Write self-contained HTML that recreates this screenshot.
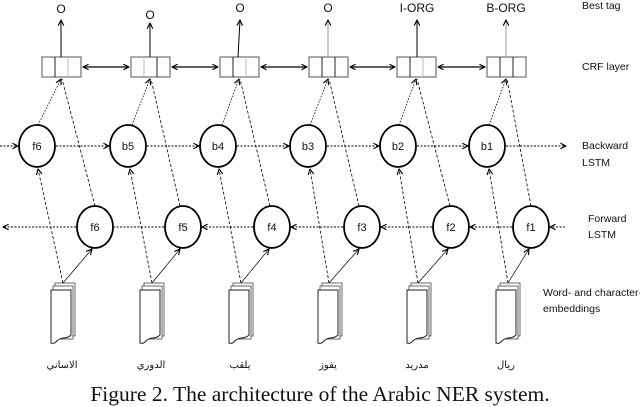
<!DOCTYPE html>
<html><head><meta charset="utf-8"><style>
body{margin:0;background:#fff;width:640px;height:407px;overflow:hidden}
svg{display:block}
text{font-family:"Liberation Sans",sans-serif;fill:#111}
</style></head><body>
<svg width="640" height="407" viewBox="0 0 640 407" xmlns="http://www.w3.org/2000/svg">
<defs>
<marker id="a" viewBox="0 0 10 10" refX="9" refY="5" markerWidth="7" markerHeight="7" orient="auto-start-reverse" markerUnits="userSpaceOnUse"><path d="M1,1 L9,5 L1,9" fill="none" stroke="#000" stroke-width="1.6"/></marker>
<g id="doc">
<rect x="4" y="0" width="20" height="53" fill="#fff" stroke="#444" stroke-width="0.8"/>
<rect x="2" y="3" width="20" height="53" fill="#fff" stroke="#444" stroke-width="0.8"/>
<path d="M0,7 H20 V52 Q17,55 12,55 Q7,56 5,59 Q3,61 0,60 Z" fill="#fff" stroke="#222" stroke-width="1"/>
</g>
</defs>
<g stroke="#000" fill="none">
<g stroke="#555" stroke-width="1">
<rect x="42" y="57" width="39" height="20"/><line x1="55" y1="57" x2="55" y2="77" stroke="#222"/><line x1="68" y1="57" x2="68" y2="77" stroke="#bbb"/>
<rect x="131" y="57" width="39" height="20"/><line x1="144" y1="57" x2="144" y2="77" stroke="#bbb"/><line x1="157" y1="57" x2="157" y2="77" stroke="#222"/>
<rect x="220" y="57" width="39" height="20"/><line x1="233" y1="57" x2="233" y2="77" stroke="#222"/><line x1="246" y1="57" x2="246" y2="77" stroke="#bbb"/>
<rect x="309" y="57" width="39" height="20"/><line x1="322" y1="57" x2="322" y2="77" stroke="#222"/><line x1="335" y1="57" x2="335" y2="77" stroke="#222"/>
<rect x="397" y="57" width="39" height="20"/><line x1="410" y1="57" x2="410" y2="77" stroke="#222"/><line x1="423" y1="57" x2="423" y2="77" stroke="#bbb"/>
<rect x="487" y="57" width="39" height="20"/><line x1="500" y1="57" x2="500" y2="77" stroke="#222"/><line x1="513" y1="57" x2="513" y2="77" stroke="#222"/>
</g>
<g stroke-width="1.3">
<line x1="83" y1="67" x2="129" y2="67" marker-start="url(#a)" marker-end="url(#a)"/>
<line x1="172" y1="67" x2="218" y2="67" marker-start="url(#a)" marker-end="url(#a)"/>
<line x1="261" y1="67" x2="307" y2="67" marker-start="url(#a)" marker-end="url(#a)"/>
<line x1="350" y1="67" x2="395" y2="67" marker-start="url(#a)" marker-end="url(#a)"/>
<line x1="438" y1="67" x2="485" y2="67" marker-start="url(#a)" marker-end="url(#a)"/>
</g>
<g stroke-width="1">
<line x1="61" y1="57" x2="61" y2="20" marker-end="url(#a)"/>
<line x1="150" y1="57" x2="150" y2="23" marker-end="url(#a)"/>
<line x1="238" y1="57" x2="240" y2="20" marker-end="url(#a)"/>
<line x1="328" y1="57" x2="328" y2="20" stroke="#999" marker-end="url(#a)"/>
<line x1="417" y1="57" x2="417" y2="20" marker-end="url(#a)"/>
<line x1="506" y1="57" x2="506" y2="20" stroke="#999" marker-end="url(#a)"/>
</g>
<g stroke-width="1.8">
<ellipse cx="37" cy="146" rx="18" ry="21"/><ellipse cx="128" cy="146" rx="18" ry="21"/><ellipse cx="218" cy="146" rx="18" ry="21"/><ellipse cx="308" cy="146" rx="18" ry="21"/><ellipse cx="398" cy="146" rx="18" ry="21"/><ellipse cx="487" cy="146" rx="18" ry="21"/>
<ellipse cx="95" cy="227" rx="18" ry="21"/><ellipse cx="183" cy="227" rx="18" ry="21"/><ellipse cx="272" cy="227" rx="18" ry="21"/><ellipse cx="362" cy="227" rx="18" ry="21"/><ellipse cx="451" cy="227" rx="18" ry="21"/><ellipse cx="531" cy="227" rx="18" ry="21"/>
</g>
<g stroke-width="0.9" stroke-dasharray="2,1.5">
<line x1="0" y1="146" x2="18" y2="146" marker-end="url(#a)"/>
<line x1="56" y1="146" x2="109" y2="146" marker-end="url(#a)"/>
<line x1="147" y1="146" x2="199" y2="146" marker-end="url(#a)"/>
<line x1="237" y1="146" x2="289" y2="146" marker-end="url(#a)"/>
<line x1="327" y1="146" x2="379" y2="146" marker-end="url(#a)"/>
<line x1="417" y1="146" x2="468" y2="146" marker-end="url(#a)"/>
<line x1="506" y1="146" x2="566" y2="146" marker-end="url(#a)"/>
<line x1="76" y1="227" x2="3" y2="227" marker-end="url(#a)"/>
<line x1="164" y1="227" x2="114" y2="227"/>
<line x1="253" y1="227" x2="202" y2="227" marker-end="url(#a)"/>
<line x1="343" y1="227" x2="291" y2="227" marker-end="url(#a)"/>
<line x1="432" y1="227" x2="381" y2="227" marker-end="url(#a)"/>
<line x1="512" y1="227" x2="470" y2="227" marker-end="url(#a)"/>
<line x1="565" y1="227" x2="550" y2="227" marker-end="url(#a)"/>
</g>
<g stroke-width="0.8" stroke-dasharray="1.5,1.5">
<line x1="38" y1="125" x2="61" y2="79" marker-end="url(#a)"/>
<line x1="132" y1="125" x2="150" y2="79" marker-end="url(#a)"/>
<line x1="222" y1="125" x2="239" y2="79" marker-end="url(#a)"/>
<line x1="310" y1="125" x2="328" y2="79" marker-end="url(#a)"/>
<line x1="399" y1="125" x2="416" y2="79" marker-end="url(#a)"/>
<line x1="489" y1="125" x2="506" y2="79" marker-end="url(#a)"/>
</g>
<g stroke-width="0.8" stroke-dasharray="3,2">
<line x1="95" y1="206" x2="62" y2="79"/>
<line x1="180" y1="206" x2="151" y2="79"/>
<line x1="270" y1="206" x2="240" y2="79"/>
<line x1="359" y1="206" x2="329" y2="79"/>
<line x1="450" y1="206" x2="417" y2="79"/>
<line x1="531" y1="206" x2="507" y2="79"/>
</g>
<g stroke-width="0.8" stroke-dasharray="3,2">
<line x1="63" y1="283" x2="38" y2="169" marker-end="url(#a)"/>
<line x1="152" y1="283" x2="130" y2="169" marker-end="url(#a)"/>
<line x1="241" y1="283" x2="219" y2="169" marker-end="url(#a)"/>
<line x1="329" y1="283" x2="310" y2="169" marker-end="url(#a)"/>
<line x1="418" y1="283" x2="399" y2="169" marker-end="url(#a)"/>
<line x1="508" y1="283" x2="489" y2="169" marker-end="url(#a)"/>
</g>
<g stroke-width="0.7">
<line x1="63" y1="283" x2="92" y2="249" marker-end="url(#a)"/>
<line x1="152" y1="283" x2="180" y2="249" marker-end="url(#a)"/>
<line x1="241" y1="283" x2="269" y2="249" marker-end="url(#a)"/>
<line x1="329" y1="283" x2="359" y2="249" marker-end="url(#a)"/>
<line x1="418" y1="283" x2="448" y2="249" marker-end="url(#a)"/>
<line x1="508" y1="283" x2="529" y2="249" marker-end="url(#a)"/>
</g>
</g>
<use href="#doc" x="51" y="283"/><use href="#doc" x="140" y="283"/><use href="#doc" x="229" y="283"/><use href="#doc" x="318" y="283"/><use href="#doc" x="407" y="283"/><use href="#doc" x="496" y="283"/>
<g font-size="12" text-anchor="middle">
<text x="61" y="13">O</text><text x="150" y="19">O</text><text x="240" y="12">O</text><text x="328" y="12">O</text><text x="417" y="12">I-ORG</text><text x="506" y="12">B-ORG</text>
<text x="37" y="150" font-size="11">f6</text><text x="128" y="150" font-size="11">b5</text><text x="218" y="150" font-size="11">b4</text><text x="308" y="150" font-size="11">b3</text><text x="398" y="150" font-size="11">b2</text><text x="487" y="150" font-size="11">b1</text>
<text x="95" y="231" font-size="11">f6</text><text x="183" y="231" font-size="11">f5</text><text x="272" y="231" font-size="11">f4</text><text x="362" y="231" font-size="11">f3</text><text x="451" y="231" font-size="11">f2</text><text x="531" y="231" font-size="11">f1</text>
</g>
<g font-size="10" font-family="'Liberation Sans','DejaVu Sans',sans-serif" text-anchor="middle" direction="rtl">
<text x="62" y="368">الاساني</text><text x="151" y="368">الدوري</text><text x="240" y="368">يلقب</text><text x="328" y="368">يفوز</text><text x="417" y="368">مدريد</text><text x="506" y="368">ريال</text>
</g>
<g font-size="10.5">
<text x="582" y="9">Best tag</text>
<text x="582" y="70">CRF layer</text>
<text x="582" y="149">Backward</text><text x="582" y="166">LSTM</text>
<text x="588" y="222">Forward</text><text x="588" y="238">LSTM</text>
<text x="543" y="296">Word- and character-</text><text x="543" y="312">embeddings</text>
</g>
<text x="320" y="401" text-anchor="middle" font-size="21.5" style="font-family:'Liberation Serif',serif">Figure 2. The architecture of the Arabic NER system.</text>
</svg>
</body></html>
